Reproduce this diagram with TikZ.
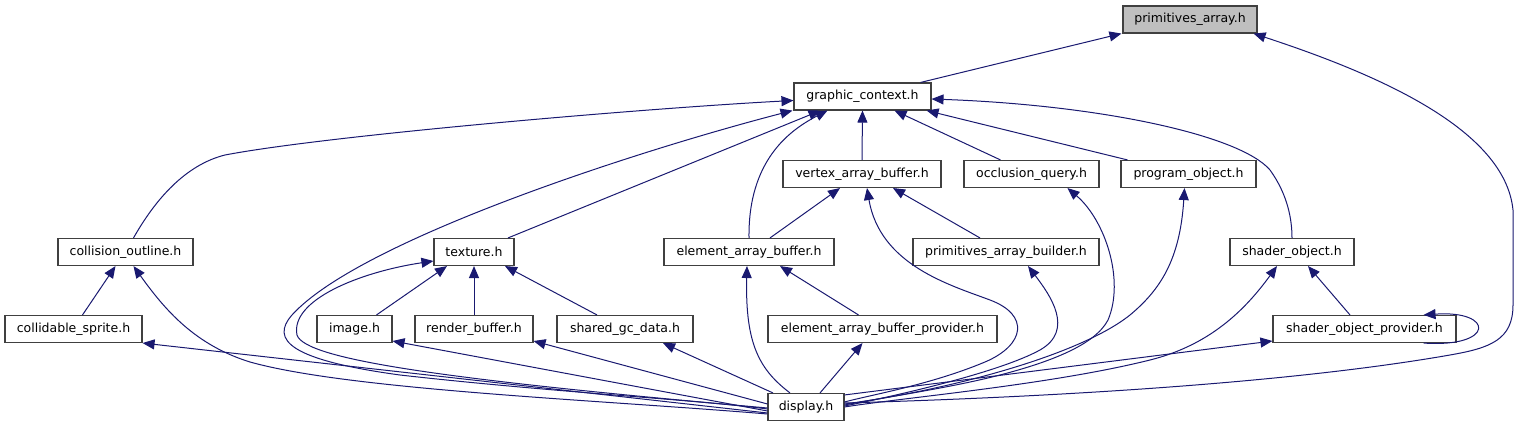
\documentclass[tikz,border=0pt]{standalone}
\usepackage{fontspec}
\setmainfont{DejaVu Sans}
\usetikzlibrary{arrows.meta}
\definecolor{navyc}{HTML}{191970}
\definecolor{boxgray}{HTML}{404040}
\definecolor{selgray}{HTML}{BFBFBF}
\begin{document}
\begin{tikzpicture}[x=1pt,y=-1pt,
  box/.style={draw=boxgray, line width=1.1pt, fill=white, inner sep=0pt, minimum height=27pt, font=\fontsize{12.5}{14}\selectfont},
  dep/.style={draw=navyc, line width=1pt, {Triangle[length=12pt,width=10pt]}-}]
\useasboundingbox (0,0) rectangle (1524,427);
% nodes
\node[box, fill=selgray, minimum width=134pt] (pa) at (1190,19.5) {primitives\_array.h};
\node[box, minimum width=137pt] (gc) at (862.5,96.5) {graphic\_context.h};
\node[box, minimum width=158pt] (vab) at (862,174) {vertex\_array\_buffer.h};
\node[box, minimum width=135pt] (oq) at (1031.5,174) {occlusion\_query.h};
\node[box, minimum width=135pt] (po) at (1188.5,174) {program\_object.h};
\node[box, minimum width=135pt] (co) at (125.5,252) {collision\_outline.h};
\node[box, minimum width=80pt] (tex) at (474,252) {texture.h};
\node[box, minimum width=170pt] (eab) at (749,252) {element\_array\_buffer.h};
\node[box, minimum width=186pt] (pab) at (1006,252) {primitives\_array\_builder.h};
\node[box, minimum width=124pt] (so) at (1292,252) {shader\_object.h};
\node[box, minimum width=137pt] (cs) at (73.5,329) {collidable\_sprite.h};
\node[box, minimum width=75pt] (img) at (354.5,329) {image.h};
\node[box, minimum width=118pt] (rb) at (474,329) {render\_buffer.h};
\node[box, minimum width=136pt] (sgc) at (625,329) {shared\_gc\_data.h};
\node[box, minimum width=229pt] (eabp) at (882.5,329) {element\_array\_buffer\_provider.h};
\node[box, minimum width=183pt] (sop) at (1364.5,329) {shader\_object\_provider.h};
\node[box, minimum width=76pt] (disp) at (806,407) {display.h};
% edges
\draw[dep] ([xshift=-1pt]pa.south west) -- ([xshift=-11pt]gc.north east);
\draw[dep] ([xshift=-4pt]pa.south east) .. controls (1380,75) and (1505,130) .. (1513,210) -- (1513,305) .. controls (1513,340) and (1490,348) .. (1450,355) .. controls (1250,390) and (950,400) .. ([yshift=4pt]disp.east);
\draw[dep] ([yshift=-4pt]gc.west) .. controls (650,108) and (330,135) .. (225,155) .. controls (185,165) and (155,200) .. ([xshift=8pt]co.north);
\draw[dep] ([xshift=-70pt]gc.south) .. controls (640,150) and (360,240) .. (292,315) .. controls (270,340) and (290,360) .. (400,375) .. controls (550,392) and (700,400) .. ([yshift=-2pt]disp.west);
\draw[dep] ([xshift=-42pt]gc.south) -- ([xshift=34pt]tex.north);
\draw[dep] (gc.south) -- (vab.north);
\draw[dep] ([xshift=-35pt]gc.south) .. controls (790,130) and (748,160) .. (eab.north);
\draw[dep] ([xshift=32pt]gc.south) -- ([xshift=-31pt]oq.north);
\draw[dep] ([xshift=-5pt]gc.south east) -- ([xshift=-61pt]po.north);
\draw[dep] ([yshift=-2.5pt]gc.east) .. controls (1100,105) and (1240,135) .. (1270,170) .. controls (1288,195) and (1292,220) .. (so.north);
\draw[dep] ([xshift=-22pt]vab.south) -- ([xshift=21pt]eab.north);
\draw[dep] ([xshift=5pt]vab.south) .. controls (880,265) and (950,285) .. (990,300) .. controls (1030,315) and (1025,345) .. (985,362) .. controls (930,385) and (870,395) .. ([yshift=5pt]disp.east);
\draw[dep] ([xshift=31pt]vab.south) -- ([xshift=-26pt]pab.north);
\draw[dep] ([xshift=36pt]oq.south) .. controls (1105,220) and (1125,280) .. (1108,320) .. controls (1095,345) and (1050,362) .. (1000,375) .. controls (950,388) and (880,398) .. ([yshift=2pt]disp.east);
\draw[dep] ([xshift=-4pt]po.south) .. controls (1180,260) and (1160,290) .. (1130,315) .. controls (1080,355) and (950,390) .. ([yshift=3pt]disp.east);
\draw[dep] ([xshift=22pt]pab.south) .. controls (1050,295) and (1075,330) .. (1040,350) .. controls (1000,372) and (900,395) .. ([yshift=1pt]disp.east);
\draw[dep] ([xshift=-15pt]so.south) .. controls (1245,310) and (1210,345) .. (1150,360) .. controls (1050,385) and (900,398) .. (disp.east);
\draw[dep] ([xshift=16pt]so.south) -- ([xshift=-14.5pt]sop.north);
\draw[dep] ([xshift=-33pt]sop.north east) .. controls (1495,310) and (1495,348) .. ([xshift=-33pt]sop.south east);
\draw[dep] ([yshift=-12pt]sop.west) -- ([yshift=-2pt]disp.north east);
\draw[dep] (cs.south east) -- ([yshift=-6pt]disp.west);
\draw[dep] ([xshift=8pt]co.south) .. controls (165,310) and (195,345) .. (250,362) .. controls (350,390) and (600,400) .. ([yshift=-7pt]disp.west);
\draw[dep] ([xshift=-27pt]tex.south) -- ([xshift=22pt]img.north);
\draw[dep] (tex.south) -- (rb.north);
\draw[dep] ([xshift=31pt]tex.south) -- ([xshift=-28pt]sgc.north);
\draw[dep] ([yshift=-9pt]tex.west) .. controls (360,272) and (290,300) .. (297,335) .. controls (305,360) and (450,380) .. ([yshift=-1pt]disp.west);
\draw[dep] ([yshift=-12pt]img.east) -- ([yshift=-4pt]disp.west);
\draw[dep] ([yshift=-12pt]rb.east) -- ([yshift=3pt]disp.west);
\draw[dep] ([xshift=38pt]sgc.south) -- ([xshift=-33pt]disp.north);
\draw[dep] ([xshift=-20pt]eabp.south) -- ([xshift=14pt]disp.north);
\draw[dep] ([xshift=-2pt]eab.south) .. controls (745,345) and (760,370) .. ([xshift=-16pt]disp.north);
\draw[dep] ([xshift=31pt]eab.south) -- ([xshift=-24pt]eabp.north);
\draw[dep] ([xshift=-10pt]co.south) -- ([xshift=9pt]cs.north);
\end{tikzpicture}
\end{document}
